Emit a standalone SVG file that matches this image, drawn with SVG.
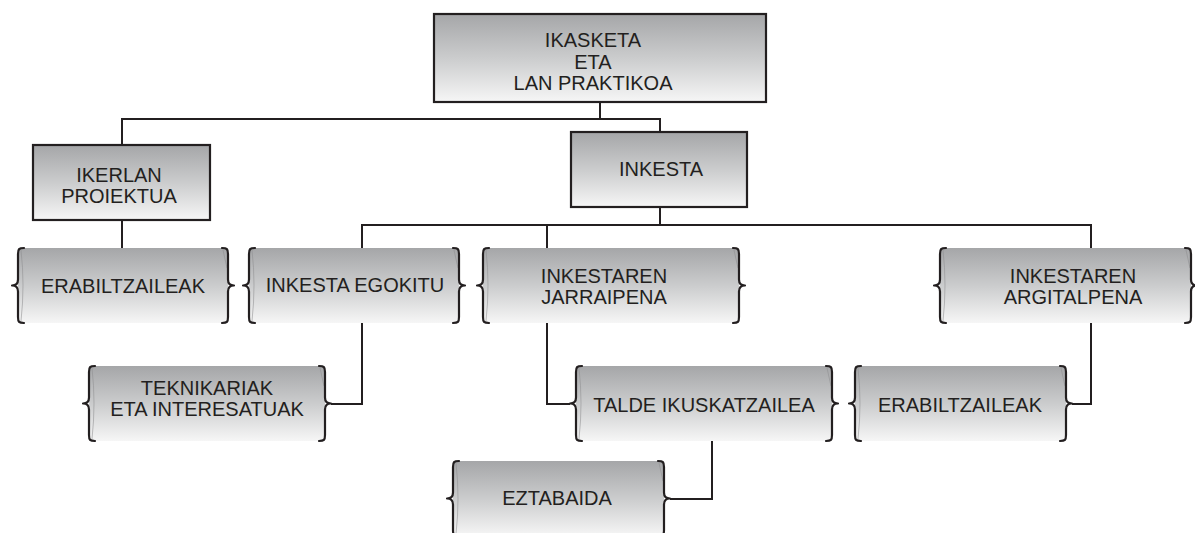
<svg xmlns="http://www.w3.org/2000/svg" width="1195" height="533" viewBox="0 0 1195 533">
  <style>
    .box { stroke: #231f20; stroke-width: 2.2; fill: url(#g); }
    .fill { fill: url(#g); stroke: none; }
    .brace { fill: none; stroke: #231f20; stroke-width: 2.2; stroke-linejoin: round; stroke-linecap: round; }
    .shade { fill: none; stroke: #8d8e90; stroke-width: 0.8; opacity: 0.7; }
    .conn { fill: none; stroke: #231f20; stroke-width: 2; }
    text { font-family: "Liberation Sans", Arial, Helvetica, sans-serif; font-size: 20px; fill: #231f20; text-anchor: middle; }
  </style>
  <defs>
    <linearGradient id="g" x1="0" y1="0" x2="0" y2="1">
      <stop offset="0" stop-color="#a5a6a8"/>
      <stop offset="0.5" stop-color="#cbcccd"/>
      <stop offset="1" stop-color="#f6f6f6"/>
    </linearGradient>
    <path id="lb" d="M6,0 C1,0 0,1 0,6 L0,31.5 C0,35.5 -2,37.5 -6,37.5 C-2,37.5 0,39.5 0,43.5 L0,69 C0,74 1,75 6,75"/>
    <path id="rb" d="M-6,0 C-1,0 0,1 0,6 L0,31.5 C0,35.5 2,37.5 6,37.5 C2,37.5 0,39.5 0,43.5 L0,69 C0,74 -1,75 -6,75"/>
    <path id="ls" d="M3,2 Q7,37 3,73"/>
    <path id="rs" d="M-5,2 L-1,20"/>
  </defs>

  <g id="connectors">
    <path class="conn" d="M600,102 V119 M122,145 V119 H660 V132"/>
    <path class="conn" d="M122,220 V248"/>
    <path class="conn" d="M660,207 V225 M362,248 V225 H1091 V248 M547,225 V248"/>
    <path class="conn" d="M362,323 V404 H331"/>
    <path class="conn" d="M547,323 V404 H570"/>
    <path class="conn" d="M712,441 V499 H670"/>
    <path class="conn" d="M1091,323 V404 H1072"/>
  </g>

  <g id="n-ikasketa">
    <rect class="box" x="434" y="14" width="332" height="88"/>
    <text x="593" y="47">IKASKETA</text>
    <text x="593" y="68.5">ETA</text>
    <text x="593" y="90">LAN PRAKTIKOA</text>
  </g>

  <g id="n-ikerlan">
    <rect class="box" x="33" y="145" width="177" height="75"/>
    <text x="119" y="182">IKERLAN</text>
    <text x="119" y="203">PROIEKTUA</text>
  </g>

  <g id="n-inkesta">
    <rect class="box" x="571" y="132" width="176" height="75"/>
    <text x="661" y="176">INKESTA</text>
  </g>

  <g id="n-erabiltzaileak1">
    <rect class="fill" x="18" y="248" width="210" height="75" rx="5"/>
    <use href="#ls" x="18" y="248" class="shade"/>
    <use href="#rs" x="228" y="248" class="shade"/>
    <use href="#lb" x="18" y="248" class="brace"/>
    <use href="#rb" x="228" y="248" class="brace"/>
    <text x="123" y="293">ERABILTZAILEAK</text>
  </g>

  <g id="n-inkesta-egokitu">
    <rect class="fill" x="249" y="248" width="210" height="75" rx="5"/>
    <use href="#ls" x="249" y="248" class="shade"/>
    <use href="#rs" x="459" y="248" class="shade"/>
    <use href="#lb" x="249" y="248" class="brace"/>
    <use href="#rb" x="459" y="248" class="brace"/>
    <text x="355" y="292">INKESTA EGOKITU</text>
  </g>

  <g id="n-jarraipena">
    <rect class="fill" x="483" y="248" width="256" height="75" rx="5"/>
    <use href="#ls" x="483" y="248" class="shade"/>
    <use href="#rs" x="739" y="248" class="shade"/>
    <use href="#lb" x="483" y="248" class="brace"/>
    <use href="#rb" x="739" y="248" class="brace"/>
    <text x="604" y="283">INKESTAREN</text>
    <text x="604" y="304">JARRAIPENA</text>
  </g>

  <g id="n-argitalpena">
    <rect class="fill" x="940" y="248" width="251" height="75" rx="5"/>
    <use href="#ls" x="940" y="248" class="shade"/>
    <use href="#rs" x="1191" y="248" class="shade"/>
    <use href="#lb" x="940" y="248" class="brace"/>
    <use href="#rb" x="1191" y="248" class="brace"/>
    <text x="1073" y="283">INKESTAREN</text>
    <text x="1073" y="304">ARGITALPENA</text>
  </g>

  <g id="n-teknikariak">
    <rect class="fill" x="89" y="366" width="236" height="75" rx="5"/>
    <use href="#ls" x="89" y="366" class="shade"/>
    <use href="#rs" x="325" y="366" class="shade"/>
    <use href="#lb" x="89" y="366" class="brace"/>
    <use href="#rb" x="325" y="366" class="brace"/>
    <text x="207" y="395">TEKNIKARIAK</text>
    <text x="207" y="416">ETA INTERESATUAK</text>
  </g>

  <g id="n-talde">
    <rect class="fill" x="576" y="366" width="256" height="75" rx="5"/>
    <use href="#ls" x="576" y="366" class="shade"/>
    <use href="#rs" x="832" y="366" class="shade"/>
    <use href="#lb" x="576" y="366" class="brace"/>
    <use href="#rb" x="832" y="366" class="brace"/>
    <text x="704" y="412">TALDE IKUSKATZAILEA</text>
  </g>

  <g id="n-erabiltzaileak2">
    <rect class="fill" x="855" y="366" width="211" height="75" rx="5"/>
    <use href="#ls" x="855" y="366" class="shade"/>
    <use href="#rs" x="1066" y="366" class="shade"/>
    <use href="#lb" x="855" y="366" class="brace"/>
    <use href="#rb" x="1066" y="366" class="brace"/>
    <text x="960" y="412">ERABILTZAILEAK</text>
  </g>

  <g id="n-eztabaida">
    <rect class="fill" x="453" y="461" width="211" height="75" rx="5"/>
    <use href="#ls" x="453" y="461" class="shade"/>
    <use href="#rs" x="664" y="461" class="shade"/>
    <use href="#lb" x="453" y="461" class="brace"/>
    <use href="#rb" x="664" y="461" class="brace"/>
    <text x="557" y="505">EZTABAIDA</text>
  </g>
</svg>
